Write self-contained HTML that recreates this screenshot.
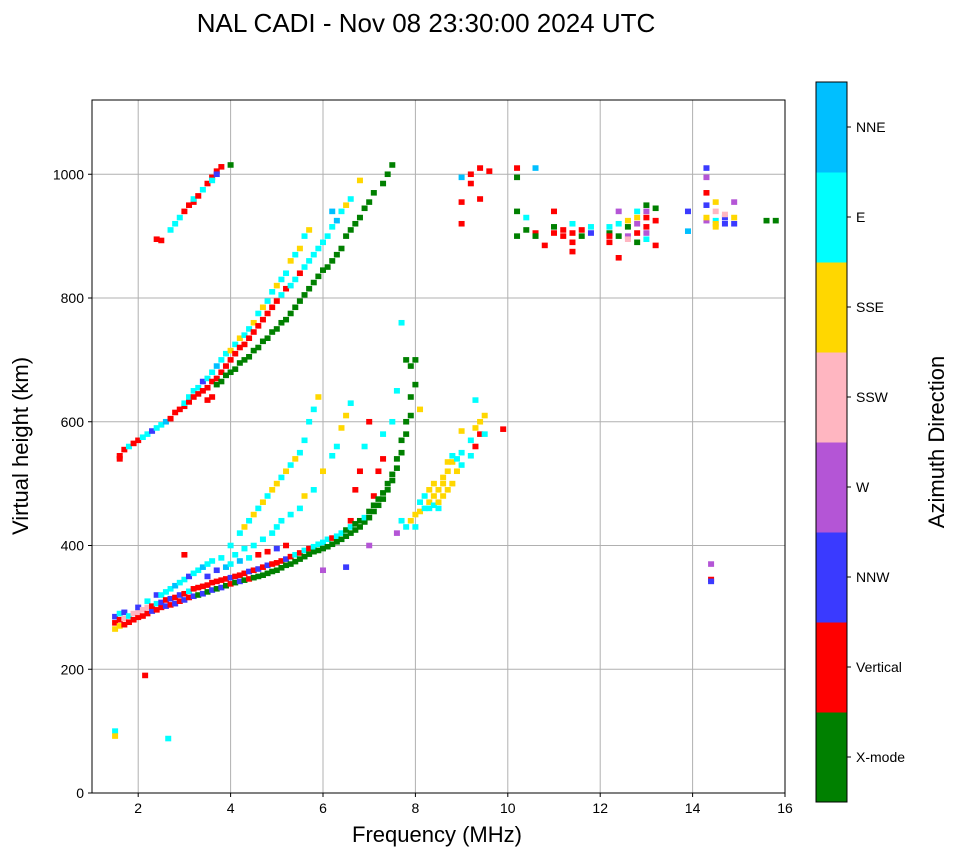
<!DOCTYPE html>
<html><head><meta charset="utf-8"><style>
body{margin:0;background:#fff;}
svg{display:block;font-family:"Liberation Sans","DejaVu Sans",sans-serif;}
</style></head><body>
<svg id="chart" width="958" height="857" viewBox="0 0 958 857">
<text x="426" y="32" font-size="26" text-anchor="middle">NAL CADI - Nov 08 23:30:00 2024 UTC</text>
<g id="grid"></g>
<g id="marks"></g>
<rect x="92" y="100" width="693" height="693" fill="none" stroke="#000" stroke-width="1"/>
<g id="axes"></g>
<text x="437" y="842" font-size="22" text-anchor="middle">Frequency (MHz)</text>
<text transform="translate(28,446) rotate(-90)" font-size="22" text-anchor="middle">Virtual height (km)</text>
<g id="cbar"></g>
<text transform="translate(944,442) rotate(-90)" font-size="22" text-anchor="middle">Azimuth Direction</text>
</svg>
<script>
const modeNames=["X-mode","Vertical","NNW","W","SSW","SSE","E","NNE"];
const modeColors=["#008000","#ff0000","#3a3aff","#b455d6","#ffb6c1","#ffd700","#00ffff","#00bfff"];
const xTicks=[2,4,6,8,10,12,14,16];
const yTicks=[0,200,400,600,800,1000];
const echoes=[
[1.5,265,5],[1.5,275,1],[1.5,285,2],[1.6,270,5],[1.6,280,1],[1.6,290,6],[1.7,272,1],[1.7,282,4],[1.7,292,2],[1.8,276,1],[1.8,286,6],[1.9,280,1],[1.9,290,4],
[2.0,284,1],[2.0,292,4],[2.0,300,2],[2.1,286,1],[2.1,296,4],[2.2,290,1],[2.2,300,4],[2.2,310,6],[2.3,294,2],[2.3,302,1],[2.4,296,1],[2.4,306,6],[2.4,320,2],
[2.5,300,1],[2.5,308,2],[2.5,320,6],[2.6,302,2],[2.6,312,1],[2.6,325,6],[2.7,304,1],[2.7,314,2],[2.7,330,6],[2.8,306,2],[2.8,316,1],[2.8,335,7],[2.9,310,1],[2.9,320,2],[2.9,340,6],
[3.0,312,2],[3.0,322,1],[3.0,345,6],[3.0,385,1],[3.1,316,1],[3.1,326,6],[3.1,350,2],[3.2,318,2],[3.2,330,1],[3.2,355,6],[3.3,320,0],[3.3,332,1],[3.3,360,6],[3.4,322,2],[3.4,334,1],[3.4,365,7],
[3.5,325,0],[3.5,336,1],[3.5,350,2],[3.5,370,6],[3.6,328,2],[3.6,340,1],[3.6,375,6],[3.7,330,0],[3.7,342,1],[3.7,360,2],[3.8,332,2],[3.8,344,1],[3.8,380,6],[3.9,335,0],[3.9,346,1],[3.9,365,7],
[4.0,338,1],[4.0,348,2],[4.0,370,6],[4.0,400,6],[4.1,340,0],[4.1,350,1],[4.1,385,6],[4.2,342,2],[4.2,352,1],[4.2,375,7],[4.2,420,6],[4.3,344,0],[4.3,355,1],[4.3,395,6],[4.3,430,5],
[4.4,346,1],[4.4,358,2],[4.4,380,6],[4.4,440,6],[4.5,348,0],[4.5,360,1],[4.5,400,6],[4.5,450,5],[4.6,350,0],[4.6,362,2],[4.6,385,1],[4.6,460,6],[4.7,352,0],[4.7,365,1],[4.7,410,6],[4.7,470,5],
[4.8,355,0],[4.8,368,2],[4.8,390,1],[4.8,480,6],[4.9,358,0],[4.9,370,1],[4.9,420,6],[4.9,490,5],[5.0,360,0],[5.0,372,1],[5.0,395,2],[5.0,430,6],[5.0,500,5],[5.1,364,0],[5.1,375,1],[5.1,440,6],[5.1,510,6],
[5.2,368,0],[5.2,378,2],[5.2,400,1],[5.2,520,5],[5.3,370,0],[5.3,382,1],[5.3,450,6],[5.3,530,6],[5.4,374,0],[5.4,385,6],[5.4,540,5],[5.5,378,0],[5.5,388,1],[5.5,460,6],[5.5,550,6],
[5.6,382,0],[5.6,392,6],[5.6,480,5],[5.6,570,6],[5.7,386,0],[5.7,395,1],[5.7,600,6],[5.8,390,0],[5.8,398,6],[5.8,490,6],[5.8,620,6],[5.9,392,0],[5.9,402,6],[5.9,640,5],
[6.0,395,0],[6.0,405,6],[6.0,360,3],[6.0,520,5],[6.1,398,0],[6.1,410,6],[6.2,402,0],[6.2,412,1],[6.2,545,6],[6.3,406,0],[6.3,415,6],[6.3,560,6],[6.4,410,0],[6.4,420,6],[6.4,590,5],
[6.5,415,0],[6.5,425,0],[6.5,365,2],[6.5,610,5],[6.6,420,0],[6.6,430,6],[6.6,440,1],[6.6,630,6],[6.7,425,0],[6.7,435,0],[6.7,490,1],[6.8,430,0],[6.8,440,0],[6.8,520,1],[6.9,438,0],[6.9,445,6],[6.9,560,6],
[7.0,445,0],[7.0,455,0],[7.0,400,3],[7.0,600,1],[7.1,455,0],[7.1,465,0],[7.1,480,1],[7.2,465,0],[7.2,475,0],[7.2,520,1],[7.3,475,0],[7.3,485,0],[7.3,540,1],[7.3,580,6],[7.4,490,0],[7.4,500,0],
[7.5,505,0],[7.5,515,0],[7.5,600,6],[7.6,525,0],[7.6,540,0],[7.6,420,3],[7.6,650,6],[7.7,550,0],[7.7,570,0],[7.7,440,6],[7.7,760,6],[7.8,580,0],[7.8,600,0],[7.8,700,0],[7.8,430,6],
[7.9,610,0],[7.9,640,0],[7.9,690,0],[7.9,440,5],[8.0,660,0],[8.0,700,0],[8.0,450,5],[8.0,430,6],[8.1,455,5],[8.1,470,6],[8.1,620,5],[8.2,460,6],[8.2,480,6],[8.3,460,6],[8.3,470,5],[8.3,490,5],
[8.4,465,6],[8.4,480,5],[8.4,500,5],[8.5,470,5],[8.5,490,5],[8.5,460,6],[8.6,480,5],[8.6,500,5],[8.6,510,5],[8.7,490,5],[8.7,520,5],[8.7,535,5],[8.8,500,5],[8.8,535,5],[8.8,545,6],[8.9,520,5],[8.9,540,6],
[9.0,530,6],[9.0,550,6],[9.0,585,5],[9.2,545,6],[9.2,570,6],[9.3,560,1],[9.3,590,5],[9.3,635,6],[9.4,580,1],[9.4,600,5],[9.5,580,6],[9.5,610,5],[9.9,588,1],
[1.6,540,1],[1.6,545,1],[1.7,555,1],[1.8,560,6],[1.9,565,1],[2.0,570,1],[2.1,575,6],[2.2,580,6],[2.3,585,2],[2.4,590,6],[2.5,595,6],[2.6,600,7],[2.7,605,1],[2.8,615,1],[2.9,620,1],
[3.0,625,1],[3.0,630,6],[3.1,632,1],[3.1,640,6],[3.2,640,1],[3.2,650,6],[3.3,645,1],[3.3,655,6],[3.4,650,1],[3.4,665,2],[3.5,655,1],[3.5,670,6],[3.5,635,1],[3.6,665,1],[3.6,680,6],[3.6,640,1],
[3.7,670,1],[3.7,690,7],[3.7,660,0],[3.8,680,1],[3.8,700,6],[3.8,665,0],[3.9,690,1],[3.9,710,6],[3.9,675,0],[4.0,700,1],[4.0,715,5],[4.0,680,0],[4.1,710,1],[4.1,725,6],[4.1,685,0],
[4.2,720,1],[4.2,735,5],[4.2,695,0],[4.3,725,1],[4.3,740,6],[4.3,700,0],[4.4,735,1],[4.4,750,6],[4.4,705,0],[4.5,745,1],[4.5,760,5],[4.5,715,0],[4.6,755,1],[4.6,775,6],[4.6,720,0],
[4.7,765,1],[4.7,785,5],[4.7,730,0],[4.8,775,1],[4.8,795,6],[4.8,735,0],[4.9,785,1],[4.9,810,6],[4.9,745,0],[5.0,795,1],[5.0,820,5],[5.0,750,0],[5.1,805,6],[5.1,830,6],[5.1,760,0],
[5.2,815,1],[5.2,840,6],[5.2,765,0],[5.3,820,6],[5.3,860,5],[5.3,775,0],[5.4,830,6],[5.4,870,6],[5.4,785,0],[5.5,840,1],[5.5,880,5],[5.5,795,0],[5.6,850,6],[5.6,900,6],[5.6,805,0],
[5.7,860,6],[5.7,910,5],[5.7,815,0],[5.8,870,6],[5.8,825,0],[5.9,880,6],[5.9,835,0],[6.0,890,6],[6.0,845,0],[6.1,900,6],[6.1,850,0],[6.2,915,6],[6.2,860,0],[6.2,940,7],[6.3,925,7],[6.3,870,0],
[6.4,940,6],[6.4,880,0],[6.5,950,5],[6.5,900,0],[6.6,960,6],[6.6,910,0],[6.7,920,0],[6.8,930,0],[6.8,990,5],[6.9,945,0],[7.0,955,0],[7.1,970,0],[7.3,985,0],[7.4,1000,0],[7.5,1015,0],
[2.4,895,1],[2.5,893,1],[2.7,910,6],[2.8,920,6],[2.9,930,6],[3.0,940,1],[3.1,950,1],[3.2,955,1],[3.2,960,6],[3.3,965,1],[3.4,975,6],[3.5,985,1],[3.6,995,1],[3.6,990,6],[3.7,1005,1],[3.7,1000,2],[3.8,1012,1],[4.0,1015,0],
[9.0,995,7],[9.0,955,1],[9.0,920,1],[9.2,1000,1],[9.2,985,1],[9.4,1010,1],[9.4,960,1],[9.6,1005,1],[10.2,1010,1],[10.2,995,0],[10.2,940,0],[10.2,900,0],[10.4,910,0],[10.4,930,6],
[10.6,1010,7],[10.6,905,1],[10.6,900,0],[10.8,885,1],[11.0,940,1],[11.0,915,0],[11.0,905,1],[11.2,910,1],[11.2,900,1],[11.4,920,6],[11.4,905,1],[11.4,890,1],[11.4,875,1],[11.6,900,0],[11.6,910,1],
[11.8,915,6],[11.8,905,2],[12.2,905,0],[12.2,900,1],[12.2,890,1],[12.2,915,6],[12.4,940,3],[12.4,920,6],[12.4,900,0],[12.4,865,1],[12.6,925,5],[12.6,915,0],[12.6,900,3],[12.6,895,4],
[12.8,940,6],[12.8,930,5],[12.8,920,3],[12.8,905,1],[12.8,890,0],[13.0,950,0],[13.0,940,3],[13.0,930,1],[13.0,915,1],[13.0,905,3],[13.0,895,6],[13.2,945,0],[13.2,925,1],[13.2,885,1],
[13.9,940,2],[13.9,908,7],[14.3,1010,2],[14.3,950,2],[14.3,925,3],[14.3,930,5],[14.3,970,1],[14.3,995,3],[14.5,955,5],[14.5,940,4],[14.5,925,6],[14.5,915,5],[14.5,920,5],
[14.7,930,2],[14.7,935,4],[14.7,920,2],[14.9,955,3],[14.9,930,5],[14.9,920,2],[15.6,925,0],[15.8,925,0],
[14.4,370,3],[14.4,345,1],[14.4,342,2],[1.5,100,6],[1.5,92,5],[2.65,88,6],[2.15,190,1]
];
const NS="http://www.w3.org/2000/svg";
const X0=92,X1=785,Y0=793,Y1=100,FMIN=1,FMAX=16,HMIN=0,HMAX=1120;
function xs(f){return X0+(f-FMIN)/(FMAX-FMIN)*(X1-X0);}
function ys(h){return Y0-(h-HMIN)/(HMAX-HMIN)*(Y0-Y1);}
function mk(tag,attrs,parent){const e=document.createElementNS(NS,tag);for(const k in attrs)e.setAttribute(k,attrs[k]);parent.appendChild(e);return e;}
const grid=document.getElementById('grid'),axes=document.getElementById('axes'),marks=document.getElementById('marks'),cbar=document.getElementById('cbar');
xTicks.forEach(t=>{const x=xs(t);
 const g=mk('line',{x1:x,x2:x,y1:Y1,y2:Y0,stroke:'#b0b0b0','stroke-width':1},grid);
 
 
 mk('line',{x1:x,x2:x,y1:Y0,y2:Y0+4,stroke:'#000'},axes);
 const tx=mk('text',{x:x,y:Y0+20,'font-size':14,'text-anchor':'middle'},axes);tx.textContent=t;
 
 
});
yTicks.forEach(t=>{const y=ys(t);
 const g=mk('line',{x1:X0,x2:X1,y1:y,y2:y,stroke:'#b0b0b0','stroke-width':1},grid);
 
 
 mk('line',{x1:X0-4,x2:X0,y1:y,y2:y,stroke:'#000'},axes);
 const tx=mk('text',{x:X0-8,y:y+5,'font-size':14,'text-anchor':'end'},axes);tx.textContent=t;
 
 
});
const cw=xs(1.13)-xs(1),ch=ys(0)-ys(9);
echoes.forEach(p=>{
 const r=mk('rect',{x:xs(p[0])-cw/2,y:ys(p[1])-ch/2,width:cw,height:ch,fill:modeColors[p[2]]},marks);
 
 
});
const CBX=816,CBW=31,CBT=82,CBB=802,n=modeNames.length,bh=(CBB-CBT)/n;
modeNames.forEach((m,i)=>{const y=CBB-(i+1)*bh;
 const r=mk('rect',{x:CBX,y:y,width:CBW,height:bh+0.5,fill:modeColors[i]},cbar);
 
 
 mk('line',{x1:CBX+CBW,x2:CBX+CBW+4,y1:y+bh/2,y2:y+bh/2,stroke:'#000'},cbar);
 const t=mk('text',{x:CBX+CBW+9,y:y+bh/2+5,'font-size':14},cbar);t.textContent=m;
 
 
});
mk('rect',{x:CBX,y:CBT,width:CBW,height:CBB-CBT,fill:'none',stroke:'#000'},cbar);
</script>
</body></html>
